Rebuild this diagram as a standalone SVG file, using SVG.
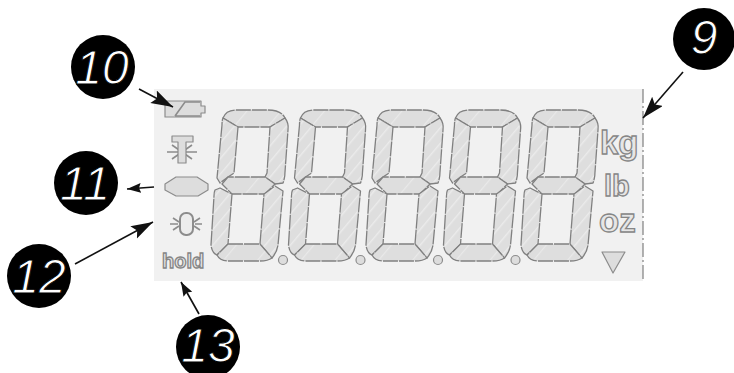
<svg xmlns="http://www.w3.org/2000/svg" xmlns:xlink="http://www.w3.org/1999/xlink" width="734" height="373" viewBox="0 0 734 373">
<style>
.seg{fill:url(#hatch);stroke:#808080;stroke-width:1.3;stroke-dasharray:15 1;stroke-linejoin:round}
.flat{fill:url(#hatch2)}
.sym{fill:#dddddd;stroke:#8c8c8c;stroke-width:1.2;stroke-linejoin:round}
.line{fill:none;stroke:#8c8c8c;stroke-width:1.6}
.unit{font-family:"Liberation Sans",Arial,sans-serif;font-weight:700;fill:#e6e6e6;stroke:#858585;stroke-width:1.3;opacity:.99}
.badge{fill:#000}
.num{font-family:"Liberation Sans",Arial,sans-serif;font-style:italic;font-size:48px;fill:#fff;stroke:#000;stroke-width:.9;paint-order:normal;text-anchor:middle}
.arrow{fill:none;stroke:#111;stroke-width:1.6;marker-end:url(#head)}
.short{marker-end:url(#headS)}
</style>
<defs>
<pattern id="hatch" width="10" height="10" patternUnits="userSpaceOnUse" patternTransform="rotate(40)">
<rect width="10" height="10" fill="#dedede"/>
<rect width="1.4" height="10" fill="#ebebeb"/>
</pattern>
<pattern id="hatch2" width="26" height="26" patternUnits="userSpaceOnUse" patternTransform="rotate(40)">
<rect width="26" height="26" fill="#dedede"/>
<rect width="1.2" height="26" fill="#e9e9e9"/>
</pattern>
<marker id="head" markerUnits="userSpaceOnUse" markerWidth="24" markerHeight="16" refX="22" refY="7" orient="auto">
<path d="M0 0L22 7L0 14L4 7Z" fill="#111"/>
</marker>
<marker id="headS" markerUnits="userSpaceOnUse" markerWidth="16" markerHeight="12" refX="14" refY="5" orient="auto">
<path d="M0 0L14 5L0 10L2 5Z" fill="#111"/>
</marker>
<g id="digit">
<path class="seg flat" d="M223 118Q226 110 236 110H268Q281 110 285 118L270 127H238Z"/>
<path class="seg" d="M223 118L238 127L234 173L228 177L220 183L217 178L222 125Q222 120 223 118Z"/>
<path class="seg" d="M285 118Q289 123 288 130L285 172Q285 178 283 183L275 184L265 177L267 173L270 127Z"/>
<path class="seg flat" d="M222 184L228 177H265L275 184L265 194H232Z"/>
<path class="seg" d="M215 190L220 188L232 194L228 244L217 255Q212 253 211 245L214 196Q214 192 215 190Z"/>
<path class="seg" d="M275 186L283 191L278 245Q277 252 272 258L260 244L264 194Z"/>
<path class="seg flat" d="M228 244H260L272 258Q268 261 260 261H228Q220 261 217 255Z"/>
</g>
</defs>
<rect width="734" height="373" fill="#fff"/>
<g id="display">
<rect x="154" y="89" width="489" height="192" fill="#f1f1f1"/>
<path d="M643 89V281" fill="none" stroke="#666" stroke-width="1" stroke-dasharray="14 3 2 3"/>
<g id="digits">
<use xlink:href="#digit"/>
<use xlink:href="#digit" x="77.5"/>
<use xlink:href="#digit" x="155"/>
<use xlink:href="#digit" x="232.5"/>
<use xlink:href="#digit" x="310"/>
</g>
<g id="dots" class="sym">
<circle cx="283" cy="260" r="4.5"/>
<circle cx="360.5" cy="260" r="4.5"/>
<circle cx="438" cy="260" r="4.5"/>
<circle cx="515.5" cy="260" r="4.5"/>
</g>
<g id="battery">
<path class="sym" d="M165 101H201V106H205V113H201V117H165Z"/>
<path d="M175 116L185 102H200M175 116H200" class="line"/>
</g>
<g id="tare">
<path class="line" d="M167 152H197M172 145L192 159M192 145L172 159"/>
<path class="sym" d="M172 136H193V142H186V163H178V142H172Z"/>
</g>
<path id="stable" class="sym" d="M165 184L176 177H197L208 184V190L198 196H176L165 190Z"/>
<g id="zero">
<rect x="180" y="213" width="13" height="22" rx="6" fill="#ececec" stroke="#8c8c8c" stroke-width="2"/>
<path class="line" d="M170 224H178M195 224H202M173 218L179 222M173 230L179 226M200 218L194 222M200 230L194 226"/>
</g>
<text id="hold" class="unit" x="162" y="268" font-size="20">hold</text>
<text id="kg" class="unit" x="600" y="154" font-size="33">kg</text>
<text id="lb" class="unit" x="604" y="196" font-size="29">lb</text>
<text id="oz" class="unit" x="599" y="232" font-size="33">oz</text>
<path id="down" class="sym" d="M602 252H625L613 273Z"/>
</g>
<g id="connectors">
<path class="arrow" d="M139 89L173 107"/>
<path class="arrow short" d="M154 187L127 189"/>
<path class="arrow" d="M75 264L153 222"/>
<path class="arrow short" d="M199 314L181 282"/>
<path class="arrow" d="M683 72L643 118"/>
</g>
<g id="n10"><circle class="badge" cx="103" cy="67" r="32"/><text class="num" x="102" y="84">10</text></g>
<g id="n11"><circle class="badge" cx="86" cy="183" r="32"/><text class="num" x="85" y="200">11</text></g>
<g id="n12"><circle class="badge" cx="39" cy="276" r="32"/><text class="num" x="39" y="293">12</text></g>
<g id="n13"><circle class="badge" cx="208" cy="347" r="32"/><text class="num" x="208" y="362">13</text></g>
<g id="n9"><circle class="badge" cx="704" cy="39" r="31"/><text class="num" x="704" y="54">9</text></g>
</svg>
